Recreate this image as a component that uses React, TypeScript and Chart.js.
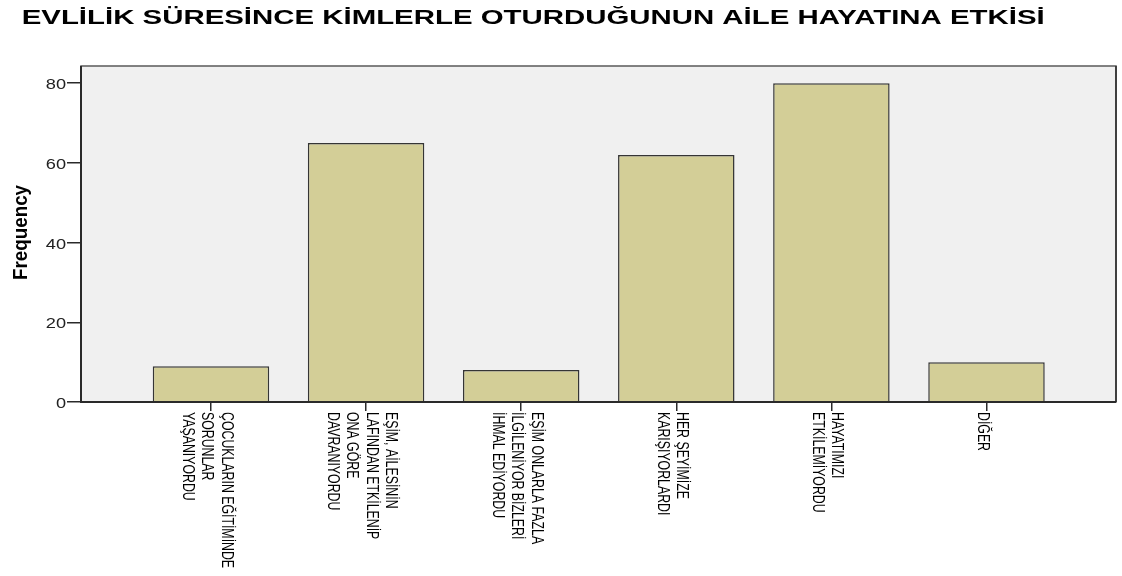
import React, { useEffect, useRef } from "react";
import { Chart, registerables } from "chart.js";

Chart.register(...registerables);

const TITLE = "EVLİLİK SÜRESİNCE KİMLERLE OTURDUĞUNUN AİLE HAYATINA ETKİSİ";
const Y_TITLE = "Frequency";

const categories: string[][] = [
  ["ÇOCUKLARIN EĞİTİMİNDE", "SORUNLAR", "YAŞANIYORDU"],
  ["EŞİM, AİLESİNİN", "LAFINDAN ETKİLENİP", "ONA GÖRE", "DAVRANIYORDU"],
  ["EŞİM ONLARLA FAZLA", "İLGİLENİYOR BİZLERİ", "İHMAL EDİYORDU"],
  ["HER ŞEYİMİZE", "KARIŞIYORLARDI"],
  ["HAYATIMIZI", "ETKİLEMİYORDU"],
  ["DİĞER"],
];
const frequencies = [9, 65, 8, 62, 80, 10];
const yTicks = [0, 20, 40, 60, 80];

const FONT = "'Liberation Sans', Arial, sans-serif";

const spssPlugin = {
  id: "spssPlugin",
  beforeDraw(chart: any) {
    const { ctx, chartArea: a } = chart;
    ctx.save();
    ctx.fillStyle = "#F0F0F0";
    ctx.fillRect(a.left, a.top, a.right - a.left, a.bottom - a.top);
    ctx.restore();
  },
  afterDatasetsDraw(chart: any) {
    const { ctx, chartArea: a } = chart;
    ctx.save();
    ctx.strokeStyle = "#5a5a5a";
    ctx.lineWidth = 1.5;
    ctx.strokeRect(a.left, a.top, a.right - a.left, a.bottom - a.top);
    ctx.strokeStyle = "#2a2a2a";
    ctx.lineWidth = 2;
    ctx.beginPath();
    ctx.moveTo(a.left, a.top);
    ctx.lineTo(a.left, a.bottom);
    ctx.lineTo(a.right, a.bottom);
    ctx.stroke();
    ctx.lineWidth = 1.5;
    ctx.beginPath();
    ctx.moveTo(a.right, a.top);
    ctx.lineTo(a.right, a.bottom);
    ctx.stroke();
    ctx.restore();
  },
  afterDraw(chart: any) {
    const { ctx, chartArea: a } = chart;
    const xs = chart.scales.x;
    const ys = chart.scales.y;
    ctx.save();
    ctx.fillStyle = "#000";
    ctx.textBaseline = "alphabetic";

    // Title
    ctx.font = `bold 19.5px ${FONT}`;
    ctx.textAlign = "left";
    const tw = ctx.measureText(TITLE).width;
    ctx.save();
    ctx.translate(21.7, 24);
    ctx.scale(1023 / tw, 1);
    ctx.fillText(TITLE, 0, 0);
    ctx.restore();

    // Y axis title
    ctx.save();
    ctx.font = `bold 20px ${FONT}`;
    ctx.textAlign = "center";
    ctx.translate(26.7, (a.top + a.bottom) / 2 - 1.5);
    ctx.rotate(-Math.PI / 2);
    ctx.scale(0.94, 1.05);
    ctx.fillText(Y_TITLE, 0, 0);
    ctx.restore();

    // Y tick labels
    ctx.font = `14px ${FONT}`;
    ctx.textAlign = "right";
    ctx.fillStyle = "#222";
    for (const v of yTicks) {
      const py = ys.getPixelForValue(v);
      ctx.save();
      ctx.translate(66, py + 6);
      ctx.scale(1.3, 1);
      ctx.fillText(String(v), 0, 0);
      ctx.restore();
    }

    // X tick labels (rotated clockwise)
    ctx.fillStyle = "#000";
    ctx.font = `14px ${FONT}`;
    ctx.textAlign = "left";
    const fs = 14, sRead = 0.88, sH = 1.18, spacing = 19.5;
    const capH = fs * 0.716 * sH;
    categories.forEach((lines, i) => {
      const tx = xs.getPixelForValue(i);
      const n = lines.length;
      lines.forEach((line, j) => {
        const cx = tx - 3 + ((n - 1) / 2 - j) * spacing;
        const bx = cx - capH / 2;
        ctx.save();
        ctx.translate(bx, a.bottom + 10);
        ctx.rotate(Math.PI / 2);
        ctx.scale(sRead, sH);
        ctx.fillText(line, 0, 0);
        ctx.restore();
      });
    });
    ctx.restore();
  },
};

export default function App() {
  const ref = useRef<HTMLCanvasElement | null>(null);
  useEffect(() => {
    if (!ref.current) return;
    const chart = new Chart(ref.current, {
      type: "bar",
      data: {
        datasets: [
          {
            data: frequencies.map((v, i) => ({ x: i, y: v })),
            backgroundColor: "#D3CE97",
            borderColor: "#353535",
            borderWidth: 1.5,
            barPercentage: 0.751,
            categoryPercentage: 1,
          },
        ],
      },
      options: {
        animation: false,
        responsive: true,
        maintainAspectRatio: false,
        layout: { padding: { top: 66, right: 6, left: 0, bottom: 0 } },
        plugins: {
          legend: { display: false },
          tooltip: { enabled: false },
          title: { display: false },
        },
        scales: {
          x: {
            type: "linear",
            min: -0.838,
            max: 5.835,
            offset: false,
            afterBuildTicks: (s: any) => {
              s.ticks = categories.map((_, i) => ({ value: i }));
            },
            afterFit: (s: any) => {
              s.height = 174;
            },
            ticks: { display: false },
            grid: {
              offset: false,
              drawOnChartArea: false,
              drawTicks: true,
              tickLength: 9,
              color: "#2a2a2a",
              lineWidth: 1.5,
            },
            border: { display: false },
          },
          y: {
            type: "linear",
            min: 0,
            max: 84.3,
            afterBuildTicks: (s: any) => {
              s.ticks = yTicks.map((v) => ({ value: v }));
            },
            afterFit: (s: any) => {
              s.width = 81;
            },
            ticks: { display: false },
            grid: {
              drawOnChartArea: false,
              drawTicks: true,
              tickLength: 14,
              color: "#2a2a2a",
              lineWidth: 1.5,
            },
            border: { display: false },
          },
        },
      },
      plugins: [spssPlugin],
    });
    return () => chart.destroy();
  }, []);
  return (
    <div style={{ position: "fixed", left: 0, top: 0, width: 1122, height: 576, background: "#fff" }}>
      <canvas ref={ref} />
    </div>
  );
}
